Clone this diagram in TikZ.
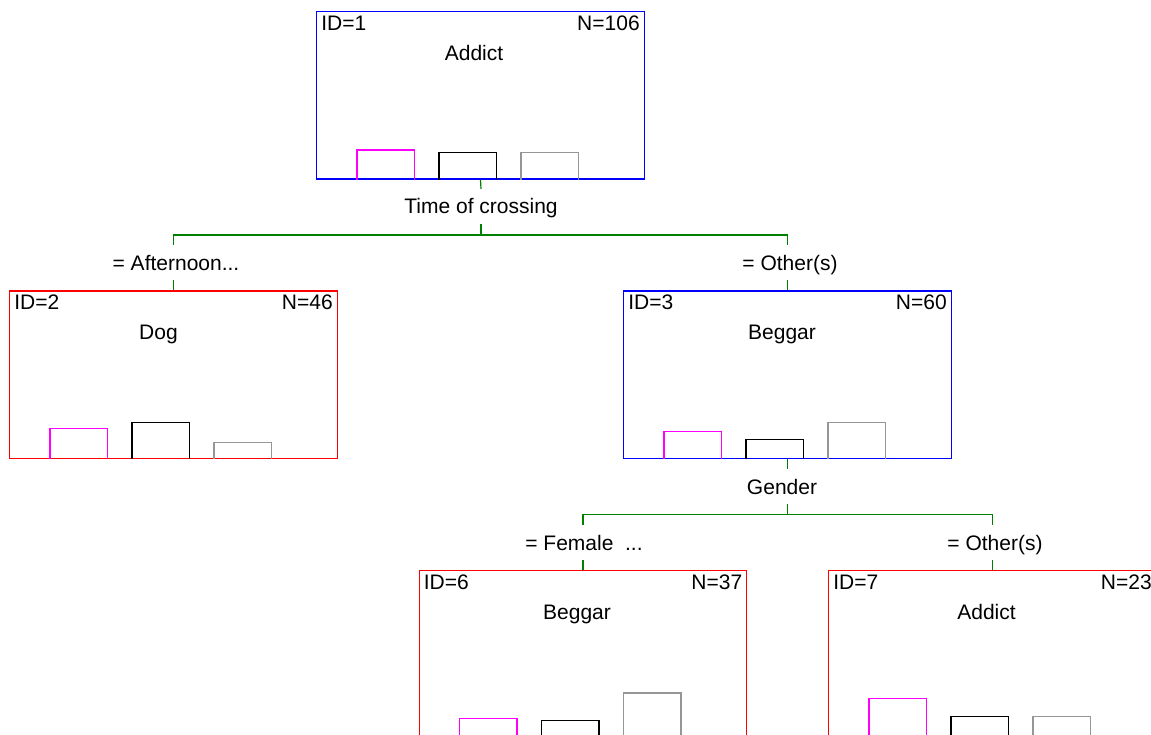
\documentclass[tikz,border=0pt]{standalone}
\usepackage{fontspec}
\setmainfont{Liberation Sans}
\usetikzlibrary{calc}
\definecolor{treegreen}{RGB}{0,128,0}
\definecolor{barmag}{RGB}{255,0,255}
\definecolor{bargray}{RGB}{150,150,150}
\tikzset{
  tbox/.style={draw=#1, line width=1.3pt, rectangle, minimum width=327.5pt, minimum height=167.5pt, inner sep=0pt},
  conn/.style={draw=treegreen, line width=1.2pt},
  lbl/.style={anchor=base, inner sep=0pt, font=\fontsize{21}{25}\selectfont},
  idl/.style={anchor=base west, inner sep=0pt, font=\fontsize{21}{25}\selectfont},
  nl/.style={anchor=base east, inner sep=0pt, font=\fontsize{21}{25}\selectfont},
  magbar/.style={draw=barmag, line width=1.3pt},
  blkbar/.style={draw=black, line width=1.3pt},
  grybar/.style={draw=bargray, line width=1.3pt}
}
\newcommand{\bars}[4]{%
  \draw[magbar] ($(#1.south west)+(41,0)$) -- ++(0,-#2) -- ++(57.5,0) -- ++(0,#2);
  \draw[blkbar] ($(#1.south west)+(123,0)$) -- ++(0,-#3) -- ++(57.5,0) -- ++(0,#3);
  \draw[grybar] ($(#1.south west)+(205,0)$) -- ++(0,-#4) -- ++(57.5,0) -- ++(0,#4);
}
\begin{document}
\begin{tikzpicture}[x=1pt,y=-1pt]
\useasboundingbox (0,0) rectangle (1151,735);
\clip (0,0) rectangle (1151,735);
\fill[white] (0,0) rectangle (1151,735);

% boxes
\node[tbox=blue] (n1) at (480.5,95.4) {};
\node[tbox=red]  (n2) at (173.5,374.75) {};
\node[tbox=blue] (n3) at (787.5,374.75) {};
\node[tbox=red]  (n6) at (583,654.25) {};
\node[tbox=red]  (n7) at (992.5,654.25) {};

% bars (open at the bottom, standing on the box border)
\bars{n1}{29.7}{27}{27}
\bars{n2}{30.5}{36.8}{16.5}
\bars{n3}{27.8}{19.5}{36.5}
\bars{n6}{20.3}{18.3}{45.7}
\bars{n7}{40.3}{22}{22}

% texts inside boxes
\foreach \n/\id/\N/\name/\off in {n1/1/106/Addict/-6.5, n2/2/46/Dog/-15, n3/3/60/Beggar/-5.5, n6/6/37/Beggar/-6, n7/7/23/Addict/-6}{
  \node[idl] (\n-id) at ($(\n.north west)+(5,19.5)$) {ID=\id};
  \node[nl]  (\n-N)  at ($(\n.north east)+(-5,19.5)$) {N=\N};
  \node[lbl] (\n-name) at ($(\n.north)+(\off,49.5)$) {\name};
}

% split 1
\node[lbl] (s1) at (481,214) {Time of crossing};
\coordinate (s1top) at (481,189);
\coordinate (j1) at (481,235);
\coordinate (j1a) at (481,224);
\coordinate (b2) at (173.5,235);
\coordinate (b3) at (787.5,235);
\coordinate (b2e) at (173.5,245);
\coordinate (b3e) at (787.5,245);
\coordinate (b2s) at (173.5,280);
\coordinate (b3s) at (787.5,280);
\node[lbl] (e2) at (176,270.7) {= Afternoon...};
\node[lbl] (e3) at (790,270.7) {= Other(s)};
\draw[conn] (n1.south) -- (s1top);
\draw[conn] (j1a) -- (j1);
\draw[conn] (b2e) -- (b2) -- (b3) -- (b3e);
\draw[conn] (b2s) -- (n2.north);
\draw[conn] (b3s) -- (n3.north);

% split 2
\node[lbl] (s2) at (782,494) {Gender};
\coordinate (s2top) at (787.5,469);
\coordinate (j2) at (787.5,514.5);
\coordinate (j2a) at (787.5,504);
\coordinate (b6) at (583,514.5);
\coordinate (b7) at (992.5,514.5);
\coordinate (b6e) at (583,524.5);
\coordinate (b7e) at (992.5,524.5);
\coordinate (b6s) at (583,559.5);
\coordinate (b7s) at (992.5,559.5);
\node[lbl] (e6) at (584,550.2) {= Female\ \ ...};
\node[lbl] (e7) at (995,550.2) {= Other(s)};
\draw[conn] (n3.south) -- (s2top);
\draw[conn] (j2a) -- (j2);
\draw[conn] (b6e) -- (b6) -- (b7) -- (b7e);
\draw[conn] (b6s) -- (n6.north);
\draw[conn] (b7s) -- (n7.north);
\end{tikzpicture}
\end{document}
